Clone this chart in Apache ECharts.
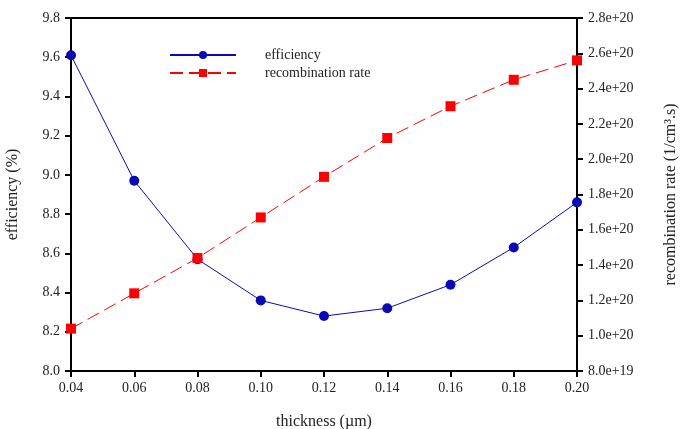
<!DOCTYPE html>
<html>
<head>
<meta charset="utf-8">
<script src="https://cdn.jsdelivr.net/npm/echarts@6/dist/echarts.min.js"></script>
<style>
html, body { margin: 0; padding: 0; background: #fff; }
#chart { width: 686px; height: 429px; }
</style>
</head>
<body>
<div id="chart"></div>
<script>
// thickness in um
var thickness = [0.04, 0.06, 0.08, 0.10, 0.12, 0.14, 0.16, 0.18, 0.20]
var efficiency = [9.61, 8.97, 8.57, 8.36, 8.28, 8.32, 8.44, 8.63, 8.86]
var recombRate = [1.04e20, 1.24e20, 1.44e20, 1.67e20, 1.90e20, 2.12e20, 2.30e20, 2.45e20, 2.56e20]

var font = 'Liberation Serif'
var blue = '#0a0ab4'
var red = '#ff0000'

function pairs(ys) {
    var out = []
    for (let i = 0; i < thickness.length; ++i) {
        out.push([thickness[i], ys[i]])
    }
    return out
}

var axisLine = { show: true, lineStyle: { color: '#000', width: 2 } }
var axisTick = { show: true, inside: false, length: 6, lineStyle: { color: '#000', width: 2 } }
var labelStyle = { color: '#222', fontFamily: font, fontSize: 14, margin: 11 }
var titleStyle = { fontFamily: font, fontSize: 16, color: '#222' }

var chart = echarts.init(document.getElementById('chart'))
chart.setOption({
    animation: false,
    grid: { left: 71, right: 109, top: 18, bottom: 58, containLabel: false, outerBoundsMode: 'none' },
    legend: {
        orient: 'vertical',
        left: 164,
        top: 43,
        itemWidth: 66,
        itemHeight: 10,
        itemGap: 4,
        textStyle: { fontFamily: font, fontSize: 14, color: '#222', padding: [0, 0, 0, 24] },
        data: ['efficiency', 'recombination rate']
    },
    xAxis: [{
        type: 'value',
        min: 0.04,
        max: 0.2,
        interval: 0.02,
        name: 'thickness (\u00b5m)',
        nameLocation: 'middle',
        nameGap: 43,
        nameTextStyle: titleStyle,
        axisLine: axisLine,
        axisTick: axisTick,
        axisLabel: Object.assign({}, labelStyle, {
            margin: 10,
            formatter: function (v) { return v.toFixed(2) }
        }),
        splitLine: { show: false }
    }, {
        type: 'value',
        position: 'top',
        min: 0.04,
        max: 0.2,
        axisLine: axisLine,
        axisTick: { show: false },
        axisLabel: { show: false },
        splitLine: { show: false }
    }],
    yAxis: [{
        type: 'value',
        min: 8.0,
        max: 9.8,
        interval: 0.2,
        name: 'efficiency (%)',
        nameLocation: 'middle',
        nameGap: 50,
        nameTextStyle: titleStyle,
        axisLine: axisLine,
        axisTick: axisTick,
        axisLabel: Object.assign({}, labelStyle, {
            formatter: function (v) { return v.toFixed(1) }
        }),
        splitLine: { show: false }
    }, {
        type: 'value',
        position: 'right',
        min: 8e19,
        max: 2.8e20,
        interval: 2e19,
        name: 'recombination rate (1/cm\u00b3.s)',
        nameLocation: 'middle',
        nameGap: 86,
        nameRotate: 90,
        nameTextStyle: titleStyle,
        axisLine: axisLine,
        axisTick: axisTick,
        axisLabel: Object.assign({}, labelStyle, {
            formatter: function (v) { return v.toExponential(1) }
        }),
        splitLine: { show: false }
    }],
    series: [{
        name: 'efficiency',
        type: 'line',
        xAxisIndex: 0,
        yAxisIndex: 0,
        data: pairs(efficiency),
        symbol: 'circle',
        symbolSize: 10,
        itemStyle: { color: blue },
        lineStyle: { color: blue, width: 1 },
        z: 3
    }, {
        name: 'recombination rate',
        type: 'line',
        xAxisIndex: 0,
        yAxisIndex: 1,
        data: pairs(recombRate),
        symbol: 'rect',
        symbolSize: 10,
        itemStyle: { color: red },
        lineStyle: { color: red, width: 1, type: [13, 6] },
        z: 4
    }]
})
</script>
</body>
</html>
